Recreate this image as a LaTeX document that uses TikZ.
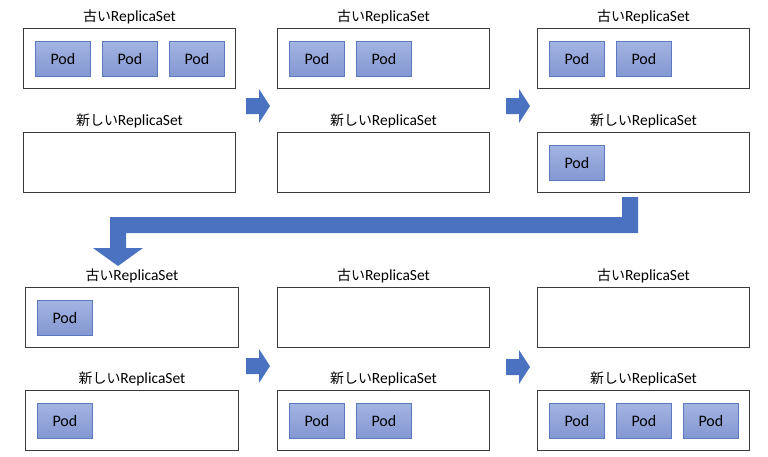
\documentclass[tikz,border=0pt]{standalone}
\usepackage{fontspec}
\setmainfont{Carlito}
\newfontfamily\jpfont[Scale=0.9]{Noto Sans CJK JP}
\usetikzlibrary{calc}

\definecolor{podtop}{HTML}{A3B4E2}
\definecolor{podbot}{HTML}{8397D1}
\definecolor{podline}{HTML}{5B79BF}
\definecolor{flowblue}{HTML}{4A72C0}
\definecolor{rsline}{HTML}{3A3A3A}

\newcommand{\oldrs}{{\jpfont 古い}ReplicaSet}
\newcommand{\newrs}{{\jpfont 新しい}ReplicaSet}

\begin{document}
\begin{tikzpicture}[x=1pt, y=-1pt, line join=miter,
  rsbox/.style={draw=rsline, line width=1pt, minimum width=212pt,
    minimum height=60pt, inner sep=0pt, anchor=north west},
  pod/.style={draw=podline, line width=0.8pt, top color=podtop,
    bottom color=podbot, minimum width=55pt, minimum height=35pt,
    inner sep=0pt, anchor=north west, font=\fontsize{16}{16}\selectfont},
  rslabel/.style={font=\fontsize{15.5}{16}\selectfont, anchor=base,
    inner sep=0pt},
  stepfwd/.pic={\fill[flowblue] (0,-8) -- (13,-8) -- (13,-17) -- (24,0)
    -- (13,17) -- (13,8) -- (0,8) -- cycle;}]

  \useasboundingbox (0,0) rectangle (768,456);

  % ===== ReplicaSet の枠 =====
  \node[rsbox] (old1) at (23,28)   {};
  \node[rsbox] (new1) at (23,132)  {};
  \node[rsbox] (old2) at (277,28)  {};
  \node[rsbox] (new2) at (277,132) {};
  \node[rsbox] (old3) at (537,28)  {};
  \node[rsbox] (new3) at (537,132) {};

  \node[rsbox, minimum width=213pt] (old4) at (25,287) {};
  \node[rsbox, minimum width=213pt] (new4) at (25,390) {};
  \node[rsbox] (old5) at (277,287) {};
  \node[rsbox] (new5) at (277,390) {};
  \node[rsbox] (old6) at (537,287) {};
  \node[rsbox] (new6) at (537,390) {};

  % ===== 見出し =====
  \foreach \b in {old1,old2,old3,old4,old5,old6}
    \node[rslabel] (\b-lbl) at ($(\b.north)+(0,-7)$) {\oldrs};
  \foreach \b in {new1,new2,new3,new4,new5,new6}
    \node[rslabel] (\b-lbl) at ($(\b.north)+(0,-7)$) {\newrs};

  % ===== Pod =====
  \foreach \b/\n in {old1/3, old2/2, old3/2, new3/1,
                     old4/1, new4/1, new5/2, new6/3}
    \foreach \i in {1,...,\n}
      \node[pod] (\b-pod\i) at ($(\b.north west)+({12+67*(\i-1)},13)$) {Pod};

  % ===== 矢印 =====
  \pic at (246,106) {stepfwd};
  \pic at (506,106) {stepfwd};
  \pic at (246,366) {stepfwd};
  \pic at (506,367) {stepfwd};

  % ---- 折り返し ----
  \fill[flowblue] (622,197) -- (638,197) -- (638,233) -- (126,233)
    -- (126,248) -- (143,248) -- (118,266) -- (93,248) -- (110,248)
    -- (110,217) -- (622,217) -- cycle;

\end{tikzpicture}
\end{document}
